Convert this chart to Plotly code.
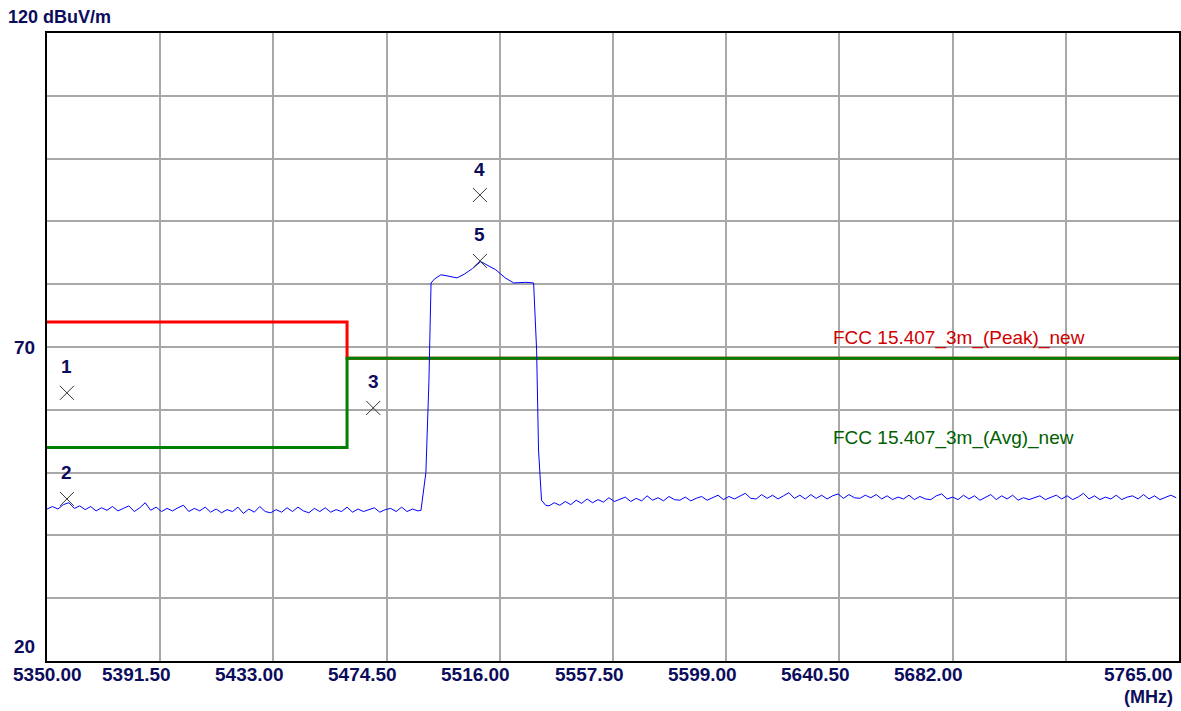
import numpy as np
import plotly.graph_objects as go

# frequency axis (MHz) and grid ticks
x_ticks = [5350.0 + 41.5 * k for k in range(11)]
x_tick_text = ["5350.00", "5391.50", "5433.00", "5474.50", "5516.00", "5557.50",
               "5599.00", "5640.50", "5682.00", "", "5765.00"]

# measured trace, noise below the carrier (5350..5486 MHz, 2 MHz steps)
noise_lo = [44.2, 44.6, 44.2, 44.9, 45.2, 44.3, 44.7, 44.1, 44.6, 43.9,
            44.4, 44.0, 44.6, 43.9, 44.3, 44.7, 43.8, 44.4, 45.2, 44.0,
            44.5, 43.8, 44.3, 43.9, 44.4, 44.8, 43.8, 44.3, 43.9, 44.5,
            43.7, 44.2, 43.6, 44.1, 43.8, 44.5, 43.5, 44.2, 43.7, 44.6,
            43.8, 43.6, 44.1, 43.7, 44.4, 43.8, 44.5, 43.9, 43.6, 44.3,
            43.8, 44.4, 43.7, 44.1, 43.8, 44.5, 43.7, 44.2, 43.8, 44.1,
            44.4, 43.7, 44.1, 44.3, 43.8, 44.5, 43.8, 44.2, 43.9]

# carrier region
band_freq = [5487.1, 5488.9, 5490.0, 5490.8, 5492.0, 5494.4, 5497.0, 5500.3,
             5503.0, 5506.0, 5509.0, 5511.5, 5514.5, 5518.0, 5521.1, 5525.5,
             5528.4, 5529.5, 5530.2, 5531.3, 5532.8]
band_level = [44.0, 50.0, 64.3, 80.2, 80.8, 81.5, 81.3, 81.0,
              81.6, 82.5, 83.6, 83.0, 82.3, 81.0, 80.2, 80.3,
              80.2, 69.5, 53.6, 45.6, 44.8]

# noise above the carrier (5534..5764 MHz, 2 MHz steps)
noise_hi = [44.7, 45.2, 44.8, 45.4, 44.9, 45.6, 45.1, 45.8, 45.2, 45.7,
            45.3, 46.0, 45.4, 45.8, 46.1, 45.4, 45.9, 45.5, 46.3, 45.6,
            46.0, 45.5, 46.2, 45.7, 45.6, 46.1, 45.5, 45.9, 46.2, 45.6,
            46.0, 46.4, 45.7, 46.2, 45.8, 46.3, 46.7, 45.9, 45.8, 46.5,
            45.9, 46.4, 45.8, 46.3, 46.8, 45.9, 46.4, 45.8, 46.5, 45.9,
            46.4, 45.8, 46.3, 46.6, 45.9, 46.5, 46.0, 45.9, 46.4, 46.0,
            46.5, 45.8, 46.3, 45.7, 46.1, 45.8, 46.4, 45.7, 46.2, 45.8,
            45.7, 46.3, 46.6, 45.8, 46.1, 45.7, 46.4, 45.8, 46.3, 45.6,
            46.1, 46.5, 45.7, 46.3, 45.8, 46.4, 45.6, 46.0, 45.7, 46.0,
            46.3, 45.7, 46.1, 46.4, 45.8, 46.3, 45.7, 46.1, 46.7, 45.8,
            46.3, 45.7, 46.1, 45.8, 46.4, 45.7, 46.1, 46.3, 45.8, 46.5,
            45.8, 46.3, 45.7, 46.1, 46.4, 46.0]

# limit lines
limit_freq = [5350, 5460, 5460, 5765]
peak_limit = [74.0, 74.0, 68.2, 68.2]
avg_limit = [54.0, 54.0, 68.2, 68.2]

# markers
marker_freq = [5357.3, 5357.3, 5469.6, 5508.7, 5508.7]
marker_level = [62.7, 45.8, 60.3, 94.2, 83.7]
marker_names = ["1", "2", "3", "4", "5"]

freq = np.concatenate([5350 + 2 * np.arange(len(noise_lo)), band_freq,
                       5534 + 2 * np.arange(len(noise_hi))])
level = np.concatenate([noise_lo, band_level, noise_hi])

NAVY = "#0c0c5c"
FONT = "Liberation Sans, Arial, sans-serif"

fig = go.Figure()

fig.add_trace(go.Scatter(x=limit_freq, y=peak_limit, mode="lines",
                         line=dict(color="#ff0000", width=3)))
fig.add_trace(go.Scatter(x=limit_freq, y=avg_limit, mode="lines",
                         line=dict(color="#008000", width=3)))
fig.add_trace(go.Scatter(x=freq, y=level, mode="lines",
                         line=dict(color="#0000ff", width=1)))
fig.add_trace(go.Scatter(x=marker_freq, y=marker_level, mode="markers",
                         marker=dict(symbol="x-thin", size=14,
                                     line=dict(color="#333333", width=1))))

for f, lv, name in zip(marker_freq, marker_level, marker_names):
    fig.add_annotation(x=f, y=lv, text=name, showarrow=False, yshift=26,
                       font=dict(family=FONT, size=19, color=NAVY, weight="bold"))

# x tick labels (drawn left of the grid line, like the analyser software)
for i, (tv, tt) in enumerate(zip(x_ticks, x_tick_text)):
    if not tt:
        continue
    if i == 0:
        kw = dict(xanchor="center", xshift=0)
    elif i == len(x_ticks) - 1:
        kw = dict(xanchor="right", xshift=-4)
    else:
        kw = dict(xanchor="center", xshift=-24)
    fig.add_annotation(x=tv, y=0, xref="x", yref="paper", yanchor="top", yshift=-1,
                       text=tt, showarrow=False,
                       font=dict(family=FONT, size=19, color=NAVY, weight="bold"), **kw)

fig.add_annotation(x=1, y=0, xref="paper", yref="paper", xanchor="right", yanchor="top",
                   xshift=-4, yshift=-24, text="(MHz)", showarrow=False,
                   font=dict(family=FONT, size=18, color=NAVY, weight="bold"))

# y labels
fig.add_annotation(x=0, y=1, xref="paper", yref="paper", xanchor="left", yanchor="bottom",
                   xshift=-41, yshift=4, text="120 dBuV/m", showarrow=False,
                   font=dict(family=FONT, size=18, color=NAVY, weight="bold"))
fig.add_annotation(x=0, y=70, xref="paper", yref="y", xanchor="right",
                   xshift=-10, text="70", showarrow=False,
                   font=dict(family=FONT, size=19, color=NAVY, weight="bold"))
fig.add_annotation(x=0, y=20, xref="paper", yref="y", xanchor="right",
                   xshift=-10, yshift=15, text="20", showarrow=False,
                   font=dict(family=FONT, size=19, color=NAVY, weight="bold"))

# limit names
fig.add_annotation(x=5637.4, y=71.4, xanchor="left", text="FCC 15.407_3m_(Peak)_new",
                   showarrow=False, font=dict(family=FONT, size=19, color="#d00000"))
fig.add_annotation(x=5637.4, y=55.5, xanchor="left", text="FCC 15.407_3m_(Avg)_new",
                   showarrow=False, font=dict(family=FONT, size=19, color="#006000"))

fig.update_xaxes(range=[5350, 5765], tickvals=x_ticks, showticklabels=False,
                 showgrid=True, gridcolor="#a8a8a8", gridwidth=1.5,
                 showline=True, linecolor="#000000", linewidth=1.5, mirror=True,
                 zeroline=False, ticks="")
fig.update_yaxes(range=[20, 120], dtick=10, showticklabels=False,
                 showgrid=True, gridcolor="#a8a8a8", gridwidth=1.5,
                 showline=True, linecolor="#000000", linewidth=1.5, mirror=True,
                 zeroline=False, ticks="")

fig.update_layout(width=1181, height=711, showlegend=False,
                  margin=dict(l=47, r=0, t=33, b=50),
                  plot_bgcolor="#ffffff", paper_bgcolor="#ffffff")

fig.write_html("out.html", config={"displayModeBar": False},
               post_script="document.body.style.margin='0';document.body.style.overflow='hidden';")
